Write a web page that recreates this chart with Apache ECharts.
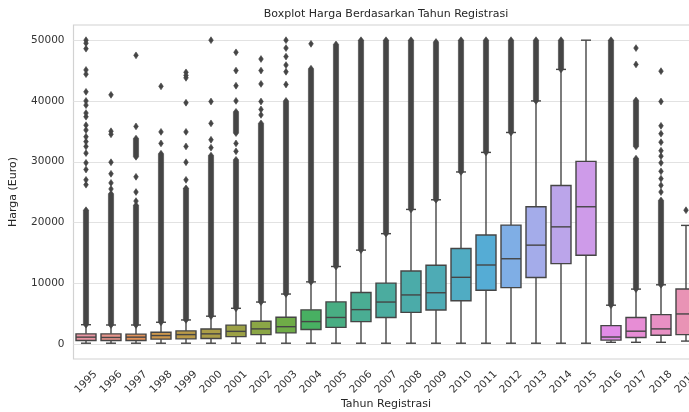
<!DOCTYPE html>
<html><head><meta charset="utf-8">
<script src="https://cdn.jsdelivr.net/npm/echarts@6/dist/echarts.min.js"></script>
<style>html,body{margin:0;padding:0;background:#fff}#c{width:689px;height:412px}</style>
</head><body><div id="c"></div>
<script>
// ---------- data ----------
const years = ['1995','1996','1997','1998','1999','2000','2001','2002','2003','2004','2005','2006','2007',
               '2008','2009','2010','2011','2012','2013','2014','2015','2016','2017','2018','2019'];
const whiskerLow  = [100,100,100,100,100,100,100,100,100,100,100,100,100,100,100,100,100,100,100,100,100,250,250,250,450];
const q1          = [540,540,540,770,820,870,1180,1520,1800,2350,2700,3660,4340,5170,5570,7100,8830,9260,10930,13200,14590,600,1050,1400,1520];
const median      = [1100,1050,1100,1360,1520,1640,2050,2460,2820,3660,4340,5630,6880,8050,8410,10950,12980,14010,16250,19260,22570,1120,2080,2460,4920];
const q3          = [1640,1640,1600,1900,2130,2450,3080,3720,4370,5590,6900,8440,10000,11980,12950,15690,17910,19550,22570,26060,30040,3000,4340,4800,9030];
const whiskerHigh = [3150,3100,3100,3550,3930,4550,5850,6880,8200,10200,12730,15430,18140,22130,23720,28300,31520,34800,40000,45190,50000,6360,9010,9720,19500];

// runs of outliers so dense that they overlap into a solid column: [year, from, to]
const denseOutliers = [
  ['1995',3150,22000],['1996',3100,24700],['1997',3100,22800],['1997',30800,33800],
  ['1998',3550,31300],['1999',3930,25600],['2000',4550,31000],
  ['2001',5850,30300],['2001',34700,38200],['2002',6880,36300],['2003',8200,40000],
  ['2004',10200,45300],['2005',12730,49300],['2006',15430,50000],['2007',18140,50000],
  ['2008',22130,50000],['2009',23720,49700],['2010',28300,50000],['2011',31520,50000],
  ['2012',34800,50000],['2013',40000,50000],['2014',45190,50000],['2016',6360,50000],
  ['2017',9010,30500],['2017',32500,40100],['2018',9720,23600]
];
// isolated outliers: [year, value]
const outliers = [
  ['1995',50000],['1995',49500],['1995',48600],['1995',45100],['1995',44400],['1995',41500],['1995',40000],
  ['1995',39300],['1995',38000],['1995',37400],['1995',36000],['1995',35200],['1995',34100],['1995',33300],
  ['1995',32500],['1995',31400],['1995',29800],['1995',28700],['1995',27000],['1995',26200],
  ['1996',41000],['1996',35000],['1996',34500],['1996',29900],['1996',28000],['1996',26500],['1996',25500],
  ['1997',47500],['1997',35800],['1997',27500],['1997',25000],['1997',23500],
  ['1998',42400],['1998',34900],['1998',33000],
  ['1999',44700],['1999',44200],['1999',43800],['1999',39700],['1999',34900],['1999',32500],['1999',29900],['1999',27000],
  ['2000',50000],['2000',39900],['2000',36300],['2000',33600],['2000',32300],
  ['2001',48000],['2001',45000],['2001',42500],['2001',40000],['2001',33000],['2001',31700],
  ['2002',46900],['2002',45000],['2002',42800],['2002',39900],['2002',38600],['2002',37700],
  ['2003',50000],['2003',48700],['2003',47300],['2003',45900],['2003',44800],['2003',42700],
  ['2004',49400],
  ['2017',48700],['2017',46000],
  ['2018',44900],['2018',39900],['2018',35900],['2018',34600],['2018',33200],['2018',31800],['2018',30900],
  ['2018',29800],['2018',28400],['2018',27200],['2018',26100],['2018',25000],
  ['2019',22000]
];
const yTicks = [0,10000,20000,30000,40000,50000];

// ---------- seaborn-like husl palette (style only) ----------
const M = [[3.2406,-1.5372,-0.4986],[-0.9689,1.8758,0.0415],[0.0557,-0.2040,1.0570]];
function maxChroma(L, H) {
  const hr = H / 180 * Math.PI, sinH = Math.sin(hr), cosH = Math.cos(hr);
  const sub1 = Math.pow(L + 16, 3) / 1560896;
  const sub2 = sub1 > 0.008856 ? sub1 : L / 903.3;
  let res = Infinity;
  for (const [m1, m2, m3] of M) {
    const top = (0.99915*m1 + 1.05122*m2 + 1.14460*m3) * sub2;
    const rb = 0.86330*m3 - 0.17266*m2, lb = 0.12949*m3 - 0.38848*m1;
    const bottom = (rb*sinH + lb*cosH) * sub2;
    for (const t of [0, 1]) {
      const C = L * (top - 1.05122*t) / (bottom + 0.17266*sinH*t);
      if (C > 0 && C < res) res = C;
    }
  }
  return res;
}
function fromLinear(c){ return c <= 0.0031308 ? 12.92*c : 1.055*Math.pow(c, 1/2.4) - 0.055; }
function huslToRgb(H, S, L) {
  if (L <= 0) return [0,0,0];
  const C = L > 99.9999999 ? 0 : maxChroma(L, H) / 100 * S;
  const hr = H / 180 * Math.PI, U = C*Math.cos(hr), V = C*Math.sin(hr);
  const t = (L + 16) / 116;
  const Y = Math.pow(t,3) > 0.008856 ? Math.pow(t,3) : (116*t - 16)/903.3;
  const vU = U/(13*L) + 0.19784, vV = V/(13*L) + 0.46834;
  const X = -(9*Y*vU) / ((vU - 4)*vV - vU*vV);
  const Z = (9*Y - 15*vV*Y - vV*X) / (3*vV);
  return M.map(r => Math.min(1, Math.max(0, fromLinear(r[0]*X + r[1]*Y + r[2]*Z))));
}
function rgbToHls(r,g,b){
  const mx=Math.max(r,g,b), mn=Math.min(r,g,b), l=(mx+mn)/2;
  if (mx===mn) return [0,l,0];
  const s = l<=0.5 ? (mx-mn)/(mx+mn) : (mx-mn)/(2-mx-mn);
  const rc=(mx-r)/(mx-mn), gc=(mx-g)/(mx-mn), bc=(mx-b)/(mx-mn);
  let h = r===mx ? bc-gc : (g===mx ? 2+rc-bc : 4+gc-rc);
  h = (((h/6)%1)+1)%1;
  return [h,l,s];
}
function hv(m1,m2,h){ h=((h%1)+1)%1; if(h<1/6) return m1+(m2-m1)*h*6; if(h<0.5) return m2; if(h<2/3) return m1+(m2-m1)*(2/3-h)*6; return m1; }
function hlsToRgb(h,l,s){ if(s===0) return [l,l,l]; const m2 = l<=0.5 ? l*(1+s) : l+s-l*s, m1=2*l-m2; return [hv(m1,m2,h+1/3),hv(m1,m2,h),hv(m1,m2,h-1/3)]; }
const toHex = c => '#' + c.map(v => Math.round(v*255).toString(16).padStart(2,'0')).join('');
const n = years.length;
const rawCols = years.map((_, i) => huslToRgb(((i/n + 0.01) % 1) * 359, 0.9*99, 0.7*99));
const desat = rawCols.map(c => { const [h,l,s] = rgbToHls(...c); return hlsToRgb(h, l, s*0.75); });
const colors = desat.map(toHex);
const lum = Math.min(...desat.map(c => rgbToHls(...c)[1])) * 0.6;
const gray = toHex([lum, lum, lum]);

// ---------- chart ----------
const idx = y => years.indexOf(y);
const boxData = years.map((y, i) => [i, whiskerLow[i], q1[i], median[i], q3[i], whiskerHigh[i]]);
const LW = 1.4;
const chart = echarts.init(document.getElementById('c'), null, {renderer: 'canvas'});
chart.setOption({
  backgroundColor: '#ffffff',
  animation: false,
  textStyle: {fontFamily: 'DejaVu Sans'},
  title: {
    text: 'Boxplot Harga Berdasarkan Tahun Registrasi',
    left: 386, top: 8, padding: 0, textAlign: 'center',
    textStyle: {fontSize: 11, fontWeight: 'normal', color: '#262626', fontFamily: 'DejaVu Sans', lineHeight: 12}
  },
  grid: {left: 73.5, right: -9.5, top: 25, bottom: 53, outerBoundsMode: 'none', containLabel: false,
         show: true, borderColor: '#d2d2d2', borderWidth: 1.2, backgroundColor: '#ffffff'},
  xAxis: {
    type: 'category', data: years, boundaryGap: true,
    axisLine: {show: false}, axisTick: {show: false}, splitLine: {show: false},
    axisLabel: {rotate: 45, align: 'center', verticalAlign: 'middle', margin: 23, interval: 0,
                fontSize: 10.5, color: '#333333', fontFamily: 'DejaVu Sans'},
    name: 'Tahun Registrasi', nameLocation: 'middle', nameGap: 40, nameMoveOverlap: false,
    nameTextStyle: {fontSize: 11, color: '#262626', fontFamily: 'DejaVu Sans'}
  },
  yAxis: {
    type: 'value', min: -2500, max: 52500, interval: 2500,
    axisLine: {show: false}, axisTick: {show: false}, splitLine: {show: false},
    axisLabel: {formatter: v => (v >= 0 && v % 10000 === 0) ? String(v) : '', margin: 9,
                fontSize: 10.5, color: '#333333', fontFamily: 'DejaVu Sans'},
    name: 'Harga (Euro)', nameLocation: 'middle', nameGap: 55, nameMoveOverlap: false,
    nameTextStyle: {fontSize: 11, color: '#262626', fontFamily: 'DejaVu Sans'}
  },
  series: [
    { // horizontal grid lines
      type: 'custom', z: 1, silent: true,
      data: yTicks.map(v => [0, v]), encode: {x: 0, y: 1},
      renderItem: (params, api) => {
        const cs = params.coordSys;
        const y = Math.round(api.coord([0, api.value(1)])[1]) + 0.5;
        return {type: 'line', shape: {x1: cs.x, y1: y, x2: cs.x + cs.width, y2: y},
                style: {stroke: '#e2e2e2', lineWidth: 1}};
      }
    },
    { // boxes
      type: 'custom', z: 3, silent: true,
      data: boxData, encode: {x: 0, y: [1,2,3,4,5]},
      renderItem: (params, api) => {
        const i = api.value(0);
        const band = api.size([1, 0])[0];
        const bw = band * 0.8, cw = bw * 0.5;
        const x = api.coord([i, 0])[0];
        const yl = api.coord([i, api.value(1)])[1], yq1 = api.coord([i, api.value(2)])[1];
        const ym = api.coord([i, api.value(3)])[1], yq3 = api.coord([i, api.value(4)])[1];
        const yh = api.coord([i, api.value(5)])[1];
        const ls = {stroke: gray, lineWidth: LW};
        return {type: 'group', children: [
          {type: 'line', shape: {x1: x, y1: yq3, x2: x, y2: yh}, style: ls},
          {type: 'line', shape: {x1: x, y1: yq1, x2: x, y2: yl}, style: ls},
          {type: 'line', shape: {x1: x - cw/2, y1: yh, x2: x + cw/2, y2: yh}, style: ls},
          {type: 'line', shape: {x1: x - cw/2, y1: yl, x2: x + cw/2, y2: yl}, style: ls},
          {type: 'rect', shape: {x: x - bw/2, y: yq3, width: bw, height: yq1 - yq3},
           style: {fill: colors[i], stroke: gray, lineWidth: LW}},
          {type: 'line', shape: {x1: x - bw/2, y1: ym, x2: x + bw/2, y2: ym}, style: ls}
        ]};
      }
    },
    { // dense outlier columns
      type: 'custom', z: 4, silent: true,
      data: denseOutliers.map(d => [idx(d[0]), d[1], d[2]]), encode: {x: 0, y: [1,2]},
      renderItem: (params, api) => {
        const i = api.value(0);
        const x = api.coord([i, 0])[0];
        const yb = api.coord([i, api.value(1)])[1], yt = api.coord([i, api.value(2)])[1];
        const w = 2.6, tip = 3.4;
        return {type: 'polygon', shape: {points: [[x, yt - tip], [x + w, yt], [x + w, yb], [x, yb + tip], [x - w, yb], [x - w, yt]]},
                style: {fill: gray, stroke: gray, lineWidth: 0.6}};
      }
    },
    { // isolated outliers
      type: 'scatter', z: 5, silent: true,
      data: outliers.map(d => [idx(d[0]), d[1]]),
      symbol: 'path://M0,-1L1,0L0,1L-1,0Z', symbolSize: [4.6, 6.8],
      itemStyle: {color: gray, borderColor: gray, borderWidth: 0.6, opacity: 1}
    }
  ]
});
</script>
</body></html>
